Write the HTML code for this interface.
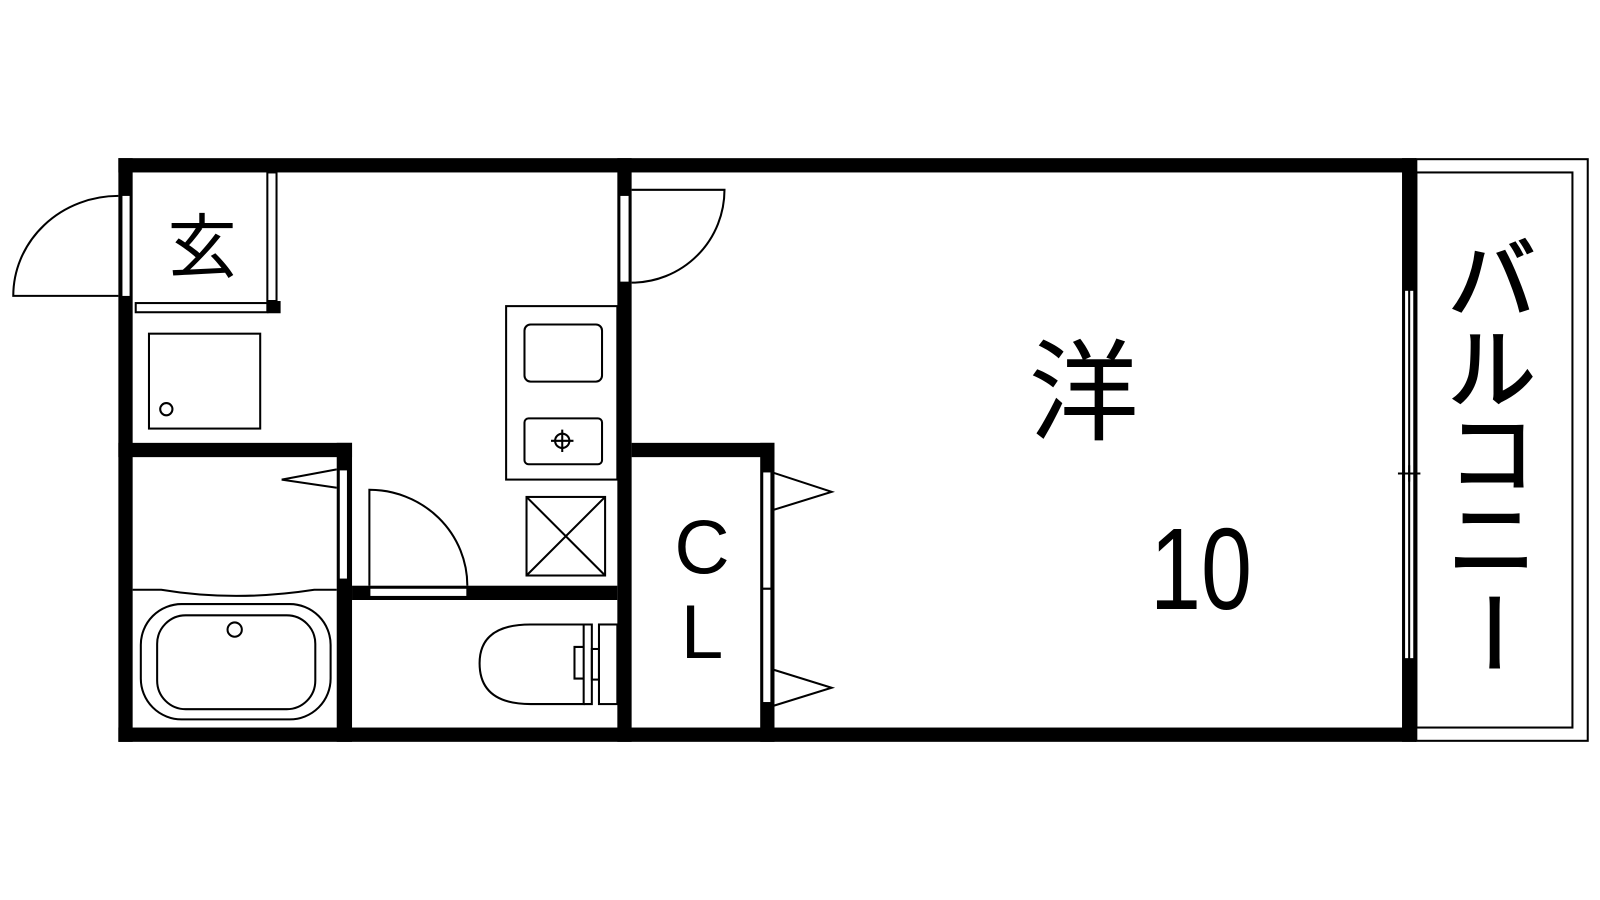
<!DOCTYPE html>
<html><head><meta charset="utf-8"><style>
html,body{margin:0;padding:0;background:#fff;}
svg{display:block}
text{font-family:"Liberation Sans","Noto Sans CJK JP",sans-serif;fill:#000}
</style></head><body>
<svg width="1600" height="900" viewBox="0 0 1600 900" xmlns="http://www.w3.org/2000/svg">
<rect width="1600" height="900" fill="#fff"/>
<g transform="scale(1.0204)">
<g fill="none" stroke="#000" stroke-width="2">
<rect x="1388" y="156" width="168" height="570"/>
<rect x="1388" y="169" width="153" height="544"/>
</g>
<g fill="#000">
<rect x="116" y="155" width="1272" height="14"/>
<rect x="116" y="713" width="1272" height="14"/>
<rect x="116" y="155" width="14" height="572"/>
<rect x="1374" y="155" width="14" height="572"/>
<rect x="605" y="155" width="14" height="572"/>
<rect x="116" y="434" width="229" height="14"/>
<rect x="330" y="434" width="15" height="293"/>
<rect x="345" y="574" width="260" height="14"/>
<rect x="619" y="434" width="140" height="14"/>
<rect x="745" y="434" width="14" height="293"/>
<rect x="262" y="295" width="13" height="12"/>
</g>
<g fill="#fff" stroke="#000" stroke-width="2">
<rect x="119" y="191" width="9" height="100"/>
<rect x="133" y="297" width="129" height="9"/>
<rect x="262" y="169" width="9" height="126"/>
<rect x="332" y="460" width="9" height="108"/>
<rect x="362" y="576" width="96" height="9"/>
<rect x="607" y="191" width="10" height="86"/>
<rect x="747" y="462" width="9" height="115"/>
<rect x="747" y="577" width="9" height="112"/>
<rect x="1376" y="284" width="10" height="362"/>
</g>
<g fill="none" stroke="#000" stroke-width="2">
<line x1="1381" y1="284" x2="1381" y2="646"/>
<line x1="1370" y1="464" x2="1392" y2="464"/>
<line x1="1381" y1="456" x2="1381" y2="472"/>
<path d="M116,192 A103,98 0 0 0 13,290 L116,290"/>
<rect x="146" y="327" width="109" height="93"/>
<circle cx="163" cy="401" r="6"/>
<path d="M276,470 L330,460 M276,470 L330,478"/>
<path d="M130,578 L158,578 Q230,590 308,578 L330,578"/>
<rect x="138" y="592" width="186" height="113" rx="40"/>
<rect x="154" y="603" width="155" height="92" rx="28"/>
<circle cx="230" cy="617" r="7"/>
<path d="M362,574 L362,480 A96,94 0 0 1 458,574"/>
<path d="M572,612 L520,612 Q470,612 470,650 Q470,690 520,690 L572,690 Z"/>
<path d="M572,612 L580,612 L580,690 L572,690"/>
<path d="M572,634 L563,634 L563,665 L572,665"/>
<rect x="580" y="636" width="7" height="30"/>
<rect x="587" y="612" width="18" height="78"/>
<rect x="496" y="300" width="109" height="170"/>
<rect x="514" y="318" width="76" height="56" rx="6"/>
<rect x="514" y="410" width="76" height="45" rx="4"/>
<circle cx="551" cy="432" r="7"/>
<path d="M551,421 V443 M540,432 H562"/>
<rect x="516" y="487" width="77" height="77"/>
<path d="M516,487 L593,564 M593,487 L516,564"/>
<path d="M619,186 L710,186 A91,91 0 0 1 619,277"/>
<path d="M757,463 L815,482 L757,500"/>
<path d="M757,656 L815,674 L757,692"/>
</g>
<text x="198" y="266" font-size="68" text-anchor="middle" font-family="'Noto Sans CJK JP',sans-serif">玄</text>
<text x="1062" y="423" font-size="108" text-anchor="middle" font-family="'Noto Sans CJK JP',sans-serif">洋</text>
<text x="1127" y="597" font-size="114" textLength="100" lengthAdjust="spacingAndGlyphs">10</text>
<text x="688" y="562" font-size="75" text-anchor="middle">C</text>
<text x="688" y="645" font-size="75" text-anchor="middle">L</text>
<g font-size="86" text-anchor="middle" font-family="'Noto Sans CJK JP',sans-serif" stroke="#000" stroke-width="2">
<text x="1462" y="305">バ</text>
<text x="1462" y="393">ル</text>
<text x="1462" y="476">コ</text>
<text x="1462" y="560">ニ</text>
<text x="1462" y="650" transform="rotate(90 1462 620)">ー</text>
</g>
</g>
</svg>
</body></html>
